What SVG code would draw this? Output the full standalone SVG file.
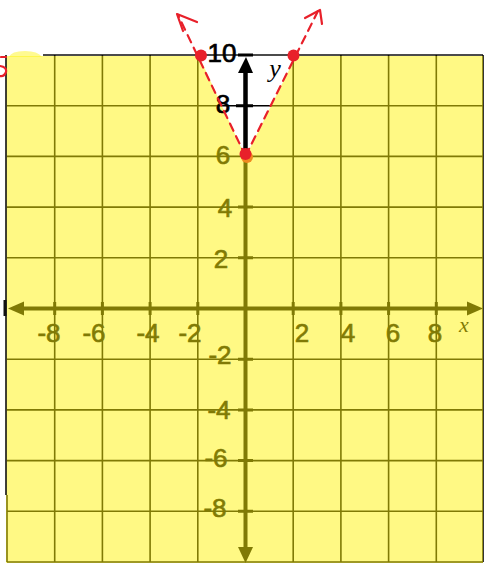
<svg xmlns="http://www.w3.org/2000/svg" width="484" height="564" viewBox="0 0 484 564">
  <defs>
    <style>
      .grid{stroke:#000;stroke-width:1.6;fill:none}
      .axis{stroke:#000;stroke-width:4;fill:none}
      .tick{stroke:#000;stroke-width:3;fill:none}
      .lbl{font-family:"Liberation Sans","DejaVu Sans",sans-serif;font-size:26px;fill:#000;stroke:#000;stroke-width:0.7;text-anchor:middle}
      .var{font-family:"Liberation Serif","DejaVu Serif",serif;font-style:italic;fill:#000;text-anchor:middle}
      .red{stroke:#E8202A;stroke-width:2.2;fill:none;stroke-linecap:round;stroke-linejoin:round}
      .dash{stroke-dasharray:8 6}
    </style>
  </defs>
  <rect x="0" y="0" width="484" height="564" fill="#fff"/>
  <g id="grid">
    <path class="grid" d="M54.7,55V562M102.4,55V562M150.1,55V562M197.8,55V562M293.2,55V562M340.9,55V562M388.6,55V562M436.3,55V562M483,55V562M7,495V562"/>
    <path class="grid" d="M7,105.7H483M7,156.4H483M7,207.1H483M7,257.8H483M7,359.2H483M7,409.9H483M7,460.6H483M7,511.3H483M7,562H483"/>
  </g>
  <g id="axes">
    <path class="axis" d="M20,308.5H470"/>
    <polygon points="8,308.5 24,301.5 24,315.5" fill="#000"/>
    <polygon points="483,308.5 467,301.5 467,315.5" fill="#000"/>
    <path class="axis" d="M245.5,70V550"/>
    <polygon points="245.5,563 238,547 253,547" fill="#000"/>
    <path class="tick" d="M54.7,302V315M102.4,302V315M150.1,302V315M197.8,302V315M293.2,302V315M340.9,302V315M388.6,302V315M436.3,302V315"/>
    <path class="tick" d="M238,207.1H253M238,257.8H253M238,359.2H253M238,409.9H253M238,460.6H253M238,511.3H253"/>
  </g>
  <g id="labels">
    <text class="lbl" x="49" y="342">-8</text>
    <text class="lbl" x="94" y="342">-6</text>
    <text class="lbl" x="148" y="342">-4</text>
    <text class="lbl" x="190" y="342">-2</text>
    <text class="lbl" x="302" y="342">2</text>
    <text class="lbl" x="348" y="342">4</text>
    <text class="lbl" x="393" y="342">6</text>
    <text class="lbl" x="435" y="342">8</text>
    <text class="var" x="464" y="332" font-size="22">x</text>
    <text class="lbl" x="223" y="164" font-size="22">6</text>
    <text class="lbl" x="225" y="217">4</text>
    <text class="lbl" x="221" y="268" font-size="23">2</text>
    <text class="lbl" x="220" y="364" font-size="23">-2</text>
    <text class="lbl" x="219" y="419">-4</text>
    <text class="lbl" x="216" y="467">-6</text>
    <text class="lbl" x="215" y="517">-8</text>
  </g>
  <g id="shading">
    <path d="M9,57 Q11,51 25,51 Q38,51 42,57 Z" fill="#FFF30A" fill-opacity="0.45"/>
    <path d="M6,56H483V563H6Z M199,56 L245.5,157 L296,56 Z" fill="#FFF30A" fill-opacity="0.5" fill-rule="evenodd"/>
  </g>
  <g id="border">
    <path d="M43,55H483M6,55V495" stroke="#111" stroke-width="1.6" fill="none"/>
    <path d="M5,300V316" stroke="#111" stroke-width="3"/>
  </g>
  <g id="upper-axis">
    <path class="axis" d="M245.5,70V156"/>
    <polygon points="246,57 238,73 253,73" fill="#000"/>
    <path class="tick" d="M238,55H253M236,105.7H253"/>
    <text class="lbl" x="222" y="62" font-size="19">10</text>
    <text class="lbl" x="223" y="113" font-size="28">8</text>
    <text class="var" x="275" y="77" font-size="26">y</text>
  </g>
  <g id="connectors">
    <path class="red dash" d="M245.5,156 L178,15"/>
    <path class="red dash" d="M245.5,156 L318,11"/>
    <polyline class="red" points="183,31 177,14 197,22"/>
    <polyline class="red" points="305,18 320,10 322,24"/>
    <path class="red" d="M1,57 L6,57 M0,66 Q7,67 6,72 Q4,77 0,76"/>
  </g>
  <g id="points">
    <circle cx="247" cy="157" r="6" fill="#F08A20"/>
    <circle cx="245.5" cy="154" r="6" fill="#E8202A"/>
    <circle cx="201" cy="55.5" r="6" fill="#E8202A"/>
    <circle cx="293.5" cy="55.5" r="6" fill="#E8202A"/>
  </g>
</svg>
